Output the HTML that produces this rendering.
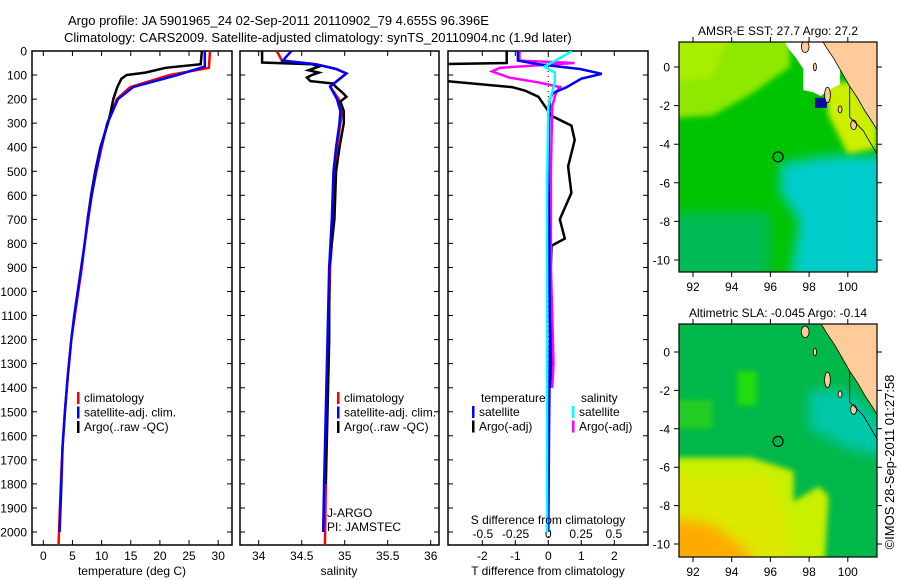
<!DOCTYPE html>
<html><head><meta charset="utf-8">
<style>
html,body{margin:0;padding:0;background:#fff;}
svg{display:block;font-family:"Liberation Sans",sans-serif;}
text{fill:#000;}
</style></head>
<body>
<svg id="chart" width="900" height="580" viewBox="0 0 900 580">
<defs>
<clipPath id="c1"><rect x="32" y="51" width="200" height="494"/></clipPath>
<clipPath id="c2"><rect x="240" y="51" width="199" height="494"/></clipPath>
<clipPath id="c3"><rect x="448" y="51" width="200" height="494"/></clipPath>
<clipPath id="m1"><rect x="679" y="42" width="198" height="230"/></clipPath>
<clipPath id="m2"><rect x="679" y="324" width="198" height="233"/></clipPath>
<filter id="bl" x="-20%" y="-20%" width="140%" height="140%"><feGaussianBlur stdDeviation="6"/></filter>
<filter id="bl2" x="-20%" y="-20%" width="140%" height="140%"><feGaussianBlur stdDeviation="3"/></filter>
</defs>
<text x="68" y="25" font-size="13">Argo profile: JA 5901965_24 02-Sep-2011 20110902_79 4.655S 96.396E</text>
<text x="64" y="42" font-size="13">Climatology: CARS2009. Satellite-adjusted climatology: synTS_20110904.nc (1.9d later)</text>
<g id="p1"></g>
<g id="p2"></g>
<g id="p3"></g>
<g id="maps"></g>
<text transform="translate(894,462) rotate(-90)" text-anchor="middle" font-size="13">©IMOS 28-Sep-2011 01:27:58</text>
</svg>
<script>
const depthTicks=[0,100,200,300,400,500,600,700,800,900,1000,1100,1200,1300,1400,1500,1600,1700,1800,1900,2000];
const tempTicks=[0,5,10,15,20,25,30];
const salTicks=[34,34.5,35,35.5,36];
const salTickLabels=["34","34.5","35","35.5","36"];
const tdTicks=[-2,-1,0,1,2];
const sdTicks=[-0.5,-0.25,0,0.25,0.5];
const sdTickLabels=["-0.5","-0.25","0","0.25","0.5"];
// temperature profiles
const tClimDepth=[0,70,100,150,200,250,300,400,500,600,700,800,900,1000,1100,1200,1350,1500,1650,1800,2060];
const tClim=[28.6,28.4,21.7,14.9,12.6,11.9,11.0,10.0,9.1,8.3,7.7,7.1,6.6,6.0,5.4,4.8,4.2,3.7,3.3,3.0,2.6];
const tSatDepth=[0,65,100,150,200,250,300,400,500,600,700,800,900,1000,1100,1200,1350,1500,1650,1800,2000];
const tSat=[27.7,27.7,23.0,15.4,12.8,11.9,11.0,9.9,9.0,8.3,7.6,7.1,6.5,5.9,5.3,4.8,4.2,3.7,3.3,3.1,2.8];
const tArgoDepth=[0,55,70,90,100,115,150,200,250,300,400,500,600,700];
const tArgo=[27.2,27.0,21.0,17.5,14.3,13.4,12.7,12.0,11.6,11.1,9.8,8.9,8.2,7.6];
// salinity profiles
const sClimDepth=[0,40,55,75,93,148,200,250,300,400,500,700,900,1200,1500,1800,2060];
const sClim=[34.21,34.27,34.67,34.9,35.02,34.83,34.93,34.97,34.95,34.91,34.88,34.87,34.83,34.81,34.79,34.78,34.77];
const sSatDepth=[0,40,55,75,93,148,200,250,300,400,500,700,900,1200,1500,1800,2000];
const sSat=[34.38,34.28,34.66,34.9,35.02,34.83,34.91,34.95,34.94,34.9,34.87,34.85,34.82,34.8,34.78,34.76,34.75];
const sArgoDepth=[0,48,55,65,80,90,100,110,125,135,150,175,190,210,250,300,400,500,700,900,1200,1500,1800];
const sArgo=[34.04,34.04,34.62,34.7,34.58,34.7,34.62,34.56,34.6,34.86,34.9,34.98,35.02,34.95,34.99,34.99,34.94,34.9,34.88,34.82,34.82,34.8,34.78];
// difference profiles
const dTSatDepth=[0,40,55,75,95,115,150,175,200,300,500,800,1200,1600,2000];
const dTSat=[-0.92,-0.92,-0.3,0.96,1.62,1.0,0.56,0.14,0.05,0.02,0.0,0.03,0.05,0.02,0.0];
const dTArgoDepth=[0,50,55,120,150,165,190,230,270,310,370,480,590,700,780,810,1000,1200,1400];
const dTArgo=[-1.26,-1.26,-3.5,-3.5,-1.1,-0.7,-0.3,-0.1,0.1,0.7,0.8,0.6,0.7,0.35,0.5,0.1,0.05,0.1,0.1];
const dSArgoDepth=[0,40,50,70,85,110,130,150,170,230,500,900,1300,1400];
const dSArgo=[-0.22,-0.22,0.2,-0.37,-0.43,-0.3,-0.08,0.09,0.06,0.03,0.02,0.02,0.04,0.03];
const dSSatDepth=[0,35,65,90,130,230,600,1000,1500,2000];
const dSSat=[0.18,0.07,-0.03,0.05,0.05,0.0,-0.01,-0.01,-0.01,-0.01];

const NS="http://www.w3.org/2000/svg";
function mk(tag,attrs,parent){const e=document.createElementNS(NS,tag);for(const k in attrs)e.setAttribute(k,attrs[k]);parent.appendChild(e);return e;}
const yD=d=>51+d*0.2405;
const xT=t=>43.3+t*5.83;
const xS=s=>258.7+(s-34)*86;
const xTD=v=>548.3+v*33;
const xSD=v=>548.3+v*131;

function frame(g,x0,x1,yLabels){
  const r=mk('rect',{x:x0,y:51,width:x1-x0,height:494,fill:'none',stroke:'#000','stroke-width':1.5},g);
  
  
  depthTicks.forEach(d=>{
    const y=yD(d);
    const t=mk('path',{d:`M${x0} ${y}h5M${x1} ${y}h-5`,stroke:'#000','stroke-width':1},g);
    
    
    if(yLabels){
      const l=mk('text',{x:27,y:y+4.5,'text-anchor':'end','font-size':12},g);
      l.textContent=d;
      
      
    }
  });
}
function xticks(g,vals,labels,fx,y){
  vals.forEach((v,i)=>{
    const x=fx(v);
    const t=mk('path',{d:`M${x} 545v-5M${x} 51v5`,stroke:'#000','stroke-width':1},g);
    
    
    const l=mk('text',{x:x,y:y,'text-anchor':'middle','font-size':12},g);
    l.textContent=labels[i];
    
    
  });
}
function line(g,depths,vals,fx,color,name,clip){
  const pts=depths.map((d,i)=>fx(vals[i]).toFixed(1)+','+yD(d).toFixed(1)).join(' ');
  const p=mk('polyline',{points:pts,fill:'none',stroke:color,'stroke-width':2.5,'clip-path':`url(#${clip})`},g);
  
  
}
function legend(g,x,y,items){
  items.forEach((it,i)=>{
    const yy=y+i*14.5;
    const m=mk('rect',{x:x,y:yy-10,width:2.5,height:12,fill:it[1]},g);
    
    
    const t=mk('text',{x:x+7,y:yy,'font-size':12},g);
    t.textContent=it[0];
    
    
  });
}
function txt(g,x,y,s,name,anchor){
  const t=mk('text',{x:x,y:y,'font-size':12,'text-anchor':anchor||'start'},g);
  t.textContent=s;
  
  
}
const p1=document.getElementById('p1');
frame(p1,32,232,true);
xticks(p1,tempTicks,tempTicks.map(String),xT,560);
line(p1,tClimDepth,tClim,xT,'#f00','temp-climatology-line','c1');
line(p1,tArgoDepth,tArgo,xT,'#000','temp-argo-line','c1');
line(p1,tSatDepth,tSat,xT,'#00f','temp-satellite-line','c1');
legend(p1,77,402,[['climatology','#f00'],['satellite-adj. clim.','#00f'],['Argo(..raw -QC)','#000']]);
txt(p1,132,575,'temperature (deg C)','temp-axis-title','middle');
const p2=document.getElementById('p2');
frame(p2,240,439,false);
xticks(p2,salTicks,salTickLabels,xS,560);
line(p2,sClimDepth,sClim,xS,'#f00','sal-climatology-line','c2');
line(p2,sArgoDepth,sArgo,xS,'#000','sal-argo-line','c2');
line(p2,sSatDepth,sSat,xS,'#00f','sal-satellite-line','c2');
legend(p2,337,402,[['climatology','#f00'],['satellite-adj. clim.','#00f'],['Argo(..raw -QC)','#000']]);
txt(p2,327,517,'J-ARGO','float-group-label');
txt(p2,327,531,'PI: JAMSTEC','pi-label');
txt(p2,339,575,'salinity','sal-axis-title','middle');
const p3=document.getElementById('p3');
frame(p3,448,648,false);
xticks(p3,tdTicks,tdTicks.map(String),xTD,560);
sdTicks.forEach((v,i)=>{txt(p3,xSD(v),538,sdTickLabels[i],'s-diff-tick-label','middle');});
const dz=mk('line',{x1:548.3,y1:51,x2:548.3,y2:545,stroke:'#000','stroke-width':1,'stroke-dasharray':'1,4'},p3);


line(p3,dTArgoDepth,dTArgo,xTD,'#000','tdiff-argo-line','c3');
line(p3,dSArgoDepth,dSArgo,xSD,'#f0f','sdiff-argo-line','c3');
line(p3,dTSatDepth,dTSat,xTD,'#00f','tdiff-satellite-line','c3');
line(p3,dSSatDepth,dSSat,xSD,'#0ff','sdiff-satellite-line','c3');
txt(p3,481,402,'temperature','legend-temperature-heading');
txt(p3,581,402,'salinity','legend-salinity-heading');
legend(p3,472,416,[['satellite','#00f'],['Argo(-adj)','#000']]);
legend(p3,572,416,[['satellite','#0ff'],['Argo(-adj)','#f0f']]);
txt(p3,548,524,'S difference from climatology','s-diff-axis-title','middle');
txt(p3,548,575,'T difference from climatology','t-diff-axis-title','middle');

const mg=document.getElementById('maps');
const lonTicks=[92,94,96,98,100];
const latTicks=[0,-2,-4,-6,-8,-10];
const argoLon=96.396, argoLat=-4.655;
function drawMap(top,bot,lat0y,clip,title,layers,name){
  const g=mk('g',{},mg);
  
  
  const X=lon=>693+(lon-92)*19.35;
  const Y=lat=>lat0y-lat*((bot===272)?19.3:19.2);
  const inner=mk('g',{'clip-path':`url(#${clip})`},g);
  layers(inner,X,Y);
  const coast=[[98.6,1.5],[98.9,1.0],[99.3,0.4],[99.7,-0.3],[100.1,-1.0],[100.5,-1.6],[100.9,-2.3],[101.3,-2.9],[101.6,-3.4],[101.6,1.5]];
  const land=mk('polygon',{points:coast.map(p=>X(p[0])+','+Y(p[1])).join(' '),fill:'#ffcc99',stroke:'#000','stroke-width':0.8},inner);
  
  
  [[97.8,1.05,0.2,0.3],[98.95,-1.45,0.15,0.4],[99.6,-2.2,0.1,0.18],[100.3,-3.0,0.15,0.25],[98.3,0.0,0.08,0.2]].forEach(e=>{
    const el=mk('ellipse',{cx:X(e[0]),cy:Y(e[1]),rx:e[2]*19.3,ry:e[3]*19.3,fill:'#ffcc99',stroke:'#000','stroke-width':0.8},inner);
    
    
  });
  const sh=mk('polyline',{points:[[100.1,-1.0],[100.1,-2.6],[100.8,-3.3],[101.5,-4.5]].map(p=>X(p[0])+','+Y(p[1])).join(' '),fill:'none',stroke:'#000','stroke-width':0.8},inner);
  
  
  const c=mk('circle',{cx:X(argoLon),cy:Y(argoLat),r:5,fill:'none',stroke:'#000','stroke-width':1.2},g);
  
  
  const f=mk('rect',{x:679,y:top,width:198,height:bot-top,fill:'none',stroke:'#000','stroke-width':1.2},g);
  
  
  lonTicks.forEach(l=>{
    const x=X(l);
    const t=mk('path',{d:`M${x} ${bot}v5M${x} ${top}v-5`,stroke:'#000','stroke-width':1},g);
    
    
    const tl=mk('text',{x:x,y:bot+19,'text-anchor':'middle','font-size':12},g);
    tl.textContent=l;
    
    
  });
  latTicks.forEach(l=>{
    const y=Y(l);
    const t=mk('path',{d:`M679 ${y}h-5M877 ${y}h5`,stroke:'#000','stroke-width':1},g);
    
    
    const tl=mk('text',{x:670,y:y+4.5,'text-anchor':'end','font-size':12},g);
    tl.textContent=l;
    
    
  });
  const tt=mk('text',{x:778,y:top-7,'text-anchor':'middle','font-size':12},g);
  tt.textContent=title;
  
  
}
function poly(g,pts,fill,X,Y,filt,name){
  const p=mk('polygon',{points:pts.map(q=>X(q[0])+','+Y(q[1])).join(' '),fill:fill},g);
  if(filt)p.setAttribute('filter',`url(#${filt})`);
  
  
}
drawMap(42,272,67,'m1','AMSR-E SST: 27.7 Argo: 27.2',(g,X,Y)=>{
  const b=mk('rect',{x:679,y:42,width:198,height:230,fill:'#00c400'},g);
  
  
  poly(g,[[90,2],[97,2],[97,0],[95,-1.4],[93,-2.5],[90,-2.7]],'#8fe800',X,Y,'bl2','sst-warm-region');
  poly(g,[[90,2],[94,2],[93,-0.5],[90,-1]],'#a8ee00',X,Y,'bl2','sst-warmest-region');
  poly(g,[[96.5,-5],[99,-4.6],[102,-4.6],[102,-11],[97,-11],[97.5,-8],[96.5,-6.5]],'#00cccc',X,Y,'bl','sst-cool-region');
  poly(g,[[90,-7.5],[96,-7.5],[96,-11],[90,-11]],'#00bb55',X,Y,'bl','sst-sw-region');
  poly(g,[[98.8,-0.8],[100.2,-0.8],[101.5,-3],[101.5,-4.2],[100,-4.5],[99,-2.5]],'#ccee00',X,Y,'bl2','sst-coastal-warm');
  poly(g,[[96.6,1.6],[98.8,1.6],[99.6,0.4],[99.6,-0.9],[99.0,-1.2],[98.6,-1.5],[98.2,-1.3],[97.7,-1.2],[97.7,-0.1],[97.3,0.5],[96.9,1.0]],'#fff',X,Y,null,'sst-no-data');
  const sq=mk('rect',{x:X(98.3),y:Y(-1.6),width:12,height:10,fill:'#0a0aa0'},g);
  
  
},'sst-map');
drawMap(324,557,352,'m2','Altimetric SLA: -0.045 Argo: -0.14',(g,X,Y)=>{
  const b=mk('rect',{x:679,y:324,width:198,height:233,fill:'#00b84a'},g);
  
  
  poly(g,[[94.3,-1],[95.3,-1],[95.3,-2.8],[94.3,-2.8]],'#22dd10',X,Y,'bl2','sla-high-patch');
  poly(g,[[90,-2.5],[93,-2.5],[93,-4],[90,-4]],'#22cc20',X,Y,'bl2','sla-west-patch');
  poly(g,[[98,-2],[100,-2],[102,-4],[102,-5.5],[100,-5],[98,-4]],'#00c8a8',X,Y,'bl','sla-coastal-low');
  poly(g,[[90,-5.5],[95,-5.5],[97.2,-6.2],[97.2,-7.8],[98.5,-7],[99,-7.5],[98.8,-11],[90,-11]],'#c8f000',X,Y,'bl2','sla-high-region');
  poly(g,[[90,-6.5],[96,-6.5],[97,-9.5],[97,-11],[90,-11]],'#dde800',X,Y,'bl','sla-higher-region');
  poly(g,[[90,-8.5],[93,-9],[95,-10.5],[95,-11],[90,-11]],'#ffaa00',X,Y,'bl','sla-highest-region');
},'sla-map');
</script>
</body></html>
